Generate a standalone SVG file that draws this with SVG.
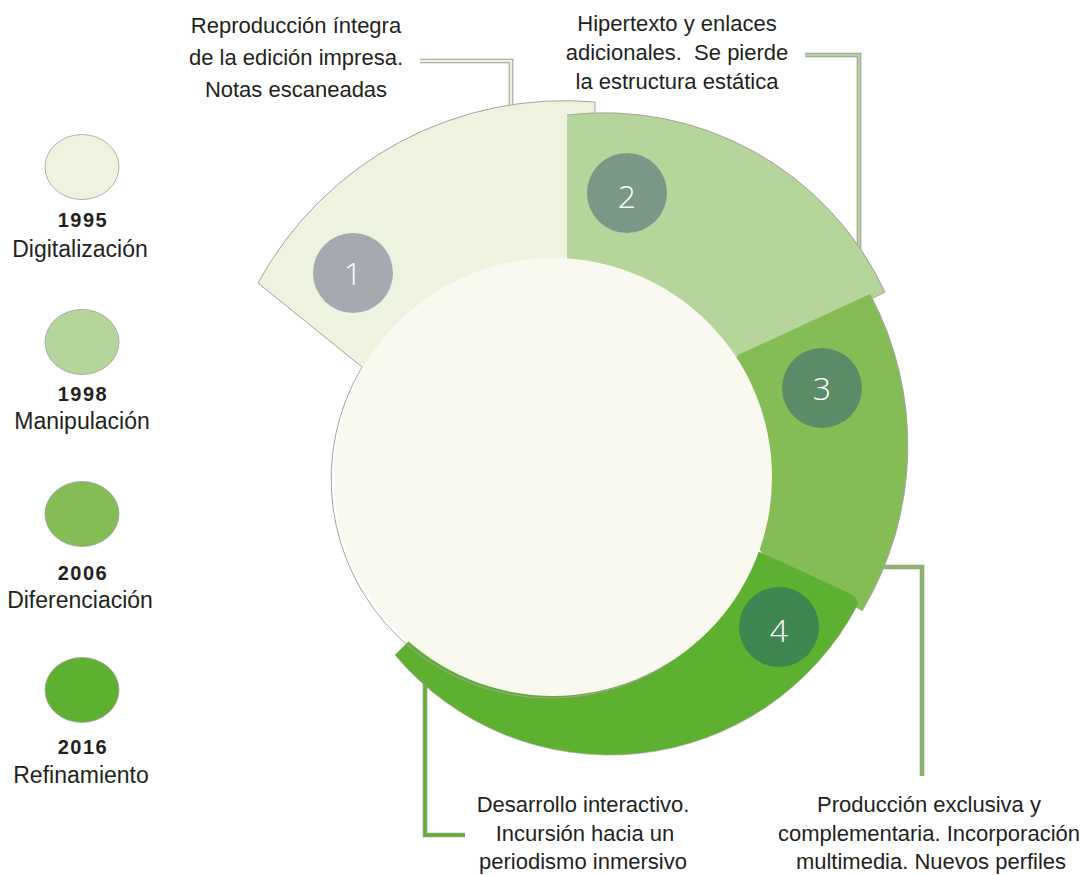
<svg xmlns="http://www.w3.org/2000/svg" width="1086" height="875" viewBox="0 0 1086 875">
<style>
.lbl{font-family:"Liberation Sans",Arial,sans-serif;font-size:22px;fill:#231f20;text-anchor:middle}
.lgt{font-family:"Liberation Sans",Arial,sans-serif;font-size:23px;fill:#231f20;text-anchor:middle}
.yr{font-family:"Liberation Sans",Arial,sans-serif;font-size:20px;font-weight:bold;letter-spacing:1.5px;fill:#231f20;text-anchor:middle}
.num{font-family:"Open Sans","Liberation Sans",sans-serif;font-size:32px;font-weight:300;fill:#ffffff;text-anchor:middle}
.edge{fill:none;stroke:#a4a4a0;stroke-width:1}
.lg{stroke:#a0a0a0;stroke-width:0.8}
.cout{fill:none;stroke:#9c9c9c;stroke-width:4.6}
.s1{fill:#edf3de}.s2{fill:#b5d59a}.s3{fill:#84bd55}.s4{fill:#5eb031}
</style>
<rect width="1086" height="875" fill="#ffffff"/>

<g id="connectors">
  <path class="cout" d="M420,61 H511 V106"/>
  <path d="M420,61 H511 V106" fill="none" stroke="#eef3e0" stroke-width="2.6"/>
  <path class="cout" d="M805,55 H859 V250"/>
  <path d="M805,55 H859 V250" fill="none" stroke="#b5d59a" stroke-width="2.6"/>
  <path class="cout" d="M882,567 H922 V776"/>
  <path d="M882,567 H922 V776" fill="none" stroke="#84bd55" stroke-width="2.6"/>
  <path class="cout" d="M425,678 V835 H465"/>
  <path d="M425,678 V835 H465" fill="none" stroke="#5eb031" stroke-width="2.8"/>
</g>

<g id="segment1">
  <path class="s1" d="M362,367 L258,283 A349,349 0 0 1 595,102 L595,300 L450,420 Z"/>
  <path class="edge" d="M362,367 L258,283 A349,349 0 0 1 595,102 L595,115"/>
</g>
<g id="segment2">
  <path class="s2" d="M567,115 A310,310 0 0 1 885,292 L873,298 L730,370 L567,300 Z"/>
  <path class="edge" d="M567,115 A310,310 0 0 1 885,292 L873,298"/>
</g>
<g id="segment3">
  <path class="s3" d="M738,355 L870,294 A322,322 0 0 1 862,611 L762,553 L700,470 Z"/>
  <path class="edge" d="M870,294 A322,322 0 0 1 862,611"/>
</g>
<g id="segment4">
  <path class="s4" d="M762,553 L849,593 Q860,598 857,606 A280,280 0 0 1 395,655 L407,643 L553,477 Z"/>
  <path class="edge" d="M857,606 A280,280 0 0 1 395,655 L407,643" stroke-opacity="0.6"/>
</g>

<g id="center">
  <circle cx="553" cy="477" r="219" fill="#f9f9ef"/>
  <path class="edge" d="M362,367 A219,219 0 0 0 669,663" stroke="#a8a8a4" stroke-width="1.3"/>
</g>

<g id="badge1">
  <circle cx="353" cy="273" r="40" fill="#a7a9b1"/>
  <text class="num" x="353" y="285">1</text>
</g>
<g id="badge2">
  <circle cx="627" cy="193" r="40" fill="#7b9786"/>
  <text class="num" x="627" y="208">2</text>
</g>
<g id="badge3">
  <circle cx="822" cy="388" r="40" fill="#5b8c67"/>
  <text class="num" x="822" y="400">3</text>
</g>
<g id="badge4">
  <circle cx="779" cy="627" r="40" fill="#3f8650"/>
  <text class="num" x="779" y="642">4</text>
</g>

<g id="label1">
  <text class="lbl" x="296" y="33">Reproducción íntegra</text>
  <text class="lbl" x="296" y="65">de la edición impresa.</text>
  <text class="lbl" x="296" y="97">Notas escaneadas</text>
</g>
<g id="label2">
  <text class="lbl" x="677" y="31">Hipertexto y enlaces</text>
  <text class="lbl" x="677" y="60" xml:space="preserve">adicionales.  Se pierde</text>
  <text class="lbl" x="677" y="89">la estructura estática</text>
</g>
<g id="label3">
  <text class="lbl" x="929" y="812">Producción exclusiva y</text>
  <text class="lbl" x="929" y="841">complementaria. Incorporación</text>
  <text class="lbl" x="931" y="869">multimedia. Nuevos perfiles</text>
</g>
<g id="label4">
  <text class="lbl" x="583" y="812">Desarrollo interactivo.</text>
  <text class="lbl" x="585" y="841">Incursión hacia un</text>
  <text class="lbl" x="583" y="869">periodismo inmersivo</text>
</g>

<g id="legend1995">
  <ellipse class="lg" cx="82" cy="167" rx="37" ry="32.5" fill="#eef3df"/>
  <text class="yr" x="83" y="227">1995</text>
  <text class="lgt" x="80" y="257">Digitalización</text>
</g>
<g id="legend1998">
  <ellipse class="lg" cx="82" cy="342" rx="37" ry="32.5" fill="#b5d59a"/>
  <text class="yr" x="83" y="401">1998</text>
  <text class="lgt" x="82" y="429">Manipulación</text>
</g>
<g id="legend2006">
  <ellipse class="lg" cx="82" cy="514" rx="37" ry="32.5" fill="#84bd55"/>
  <text class="yr" x="83" y="580">2006</text>
  <text class="lgt" x="80" y="608">Diferenciación</text>
</g>
<g id="legend2016">
  <ellipse class="lg" cx="82" cy="690" rx="37" ry="32.5" fill="#5eb031"/>
  <text class="yr" x="83" y="754">2016</text>
  <text class="lgt" x="81" y="783">Refinamiento</text>
</g>
</svg>
